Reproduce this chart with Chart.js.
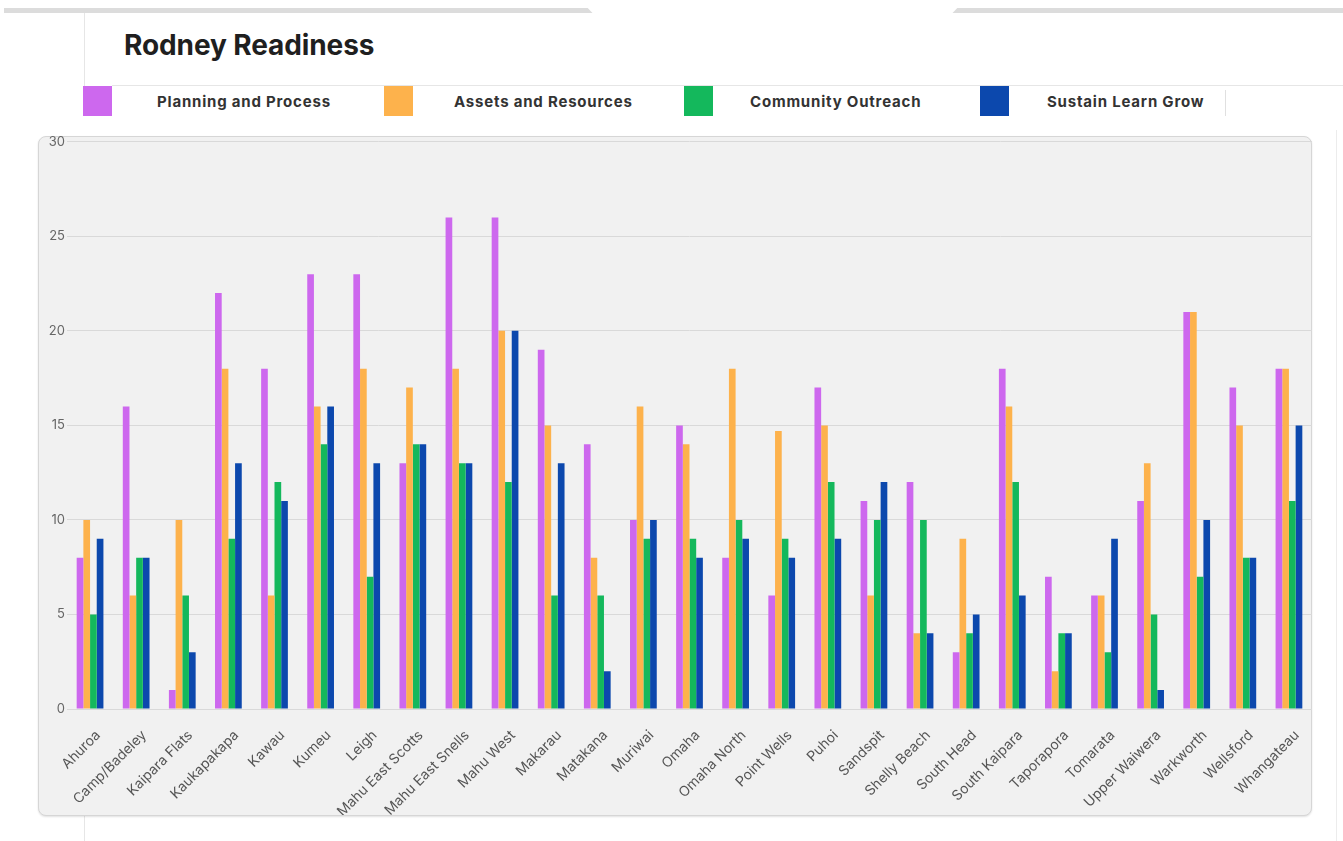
<!DOCTYPE html>
<html>
<head>
<meta charset="utf-8">
<title>Rodney Readiness</title>
<script src="https://cdn.jsdelivr.net/npm/chart.js@4.4.1/dist/chart.umd.min.js"></script>
<style>
    html, body { margin: 0; padding: 0; background: #fff; }
    body { width: 1343px; height: 841px; position: relative; overflow: hidden; font-family: Inter, "Open Sans", sans-serif; }
    .top-band { position: absolute; left: 4px; right: 0; top: 8px; height: 5px; background: #dcdcdc; }
    .top-notch { position: absolute; left: 580px; top: 0; width: 385px; height: 40px; background: #fff;
                 clip-path: polygon(0 0, 100% 0, 90% 100%, 10% 100%); }
    .rule-left { position: absolute; left: 84px; top: 13px; width: 1px; height: 73px; background: #e6e6e6; }
    .rule-left-bottom { position: absolute; left: 84px; top: 816px; width: 1px; height: 25px; background: #e6e6e6; }
    .rule-head { position: absolute; left: 112px; right: 0; top: 85px; height: 1px; background: #e6e6e6; }
    .rule-right { position: absolute; left: 1336px; top: 130px; width: 1px; height: 711px; background: #ececec; }
    .title { position: absolute; left: 124px; top: 28px; font-size: 28px; font-weight: 700; color: #1f1f1f; letter-spacing: -0.1px; }
    .legend-item { position: absolute; top: 86px; height: 30px; }
    .legend-item .swatch { position: absolute; left: 0; top: 0; width: 29px; height: 30px; }
    .legend-item .label { position: absolute; top: 6px; font-size: 15px; font-weight: 700; color: #333; white-space: nowrap; letter-spacing: 0.8px; }
    .legend-sep { position: absolute; left: 1225px; top: 90px; width: 1px; height: 26px; background: #e0e0e0; }
    .panel { position: absolute; left: 38px; top: 136px; width: 1272px; height: 678px; background: #f1f1f1;
             border: 1px solid #d6d6d6; border-radius: 8px; box-shadow: 0 1px 2px rgba(0,0,0,0.12); }
    #chartWrap { position: absolute; left: 38px; top: 132px; width: 1275px; height: 683px; }
</style>
</head>
<body>
<div class="top-band"></div>
<div class="top-notch"></div>
<div class="rule-left"></div>
<div class="rule-left-bottom"></div>
<div class="rule-head"></div>
<div class="rule-right"></div>
<div class="title">Rodney Readiness</div>
<div id="legend"></div>
<div class="legend-sep"></div>
<div class="panel"></div>
<div id="chartWrap"><canvas id="readinessChart" width="1275" height="683"></canvas></div>

<script>
// Localities across Rodney
const categories = [
    'Ahuroa', 'Camp/Badeley', 'Kaipara Flats', 'Kaukapakapa', 'Kawau', 'Kumeu', 'Leigh',
    'Mahu East Scotts', 'Mahu East Snells', 'Mahu West', 'Makarau', 'Matakana', 'Muriwai',
    'Omaha', 'Omaha North', 'Point Wells', 'Puhoi', 'Sandspit', 'Shelly Beach', 'South Head',
    'South Kaipara', 'Taporapora', 'Tomarata', 'Upper Waiwera', 'Warkworth', 'Wellsford', 'Whangateau'
];

// Scores per readiness area
const planningAndProcess = [8, 16, 1, 22, 18, 23, 23, 13, 26, 26, 19, 14, 10, 15, 8, 6, 17, 11, 12, 3, 18, 7, 6, 11, 21, 17, 18];
const assetsAndResources = [10, 6, 10, 18, 6, 16, 18, 17, 18, 20, 15, 8, 16, 14, 18, 14.7, 15, 6, 4, 9, 16, 2, 6, 13, 21, 15, 18];
const communityOutreach = [5, 8, 6, 9, 12, 14, 7, 14, 13, 12, 6, 6, 9, 9, 10, 9, 12, 10, 10, 4, 12, 4, 3, 5, 7, 8, 11];
const sustainLearnGrow = [9, 8, 3, 13, 11, 16, 13, 14, 13, 20, 13, 2, 10, 8, 9, 8, 9, 12, 4, 5, 6, 4, 9, 1, 10, 8, 15];

const seriesNames = ['Planning and Process', 'Assets and Resources', 'Community Outreach', 'Sustain Learn Grow'];
const seriesColors = ['#cd68ee', '#fdb24c', '#14b85c', '#0c48ad'];
const yTicks = [0, 5, 10, 15, 20, 25, 30];

// Legend row above the panel
const legendLeft = [83, 384, 684, 980];
const labelOffset = [74, 70, 66, 67];
const legendEl = document.getElementById('legend');
seriesNames.forEach(function(name, i) {
    const item = document.createElement('div');
    item.className = 'legend-item';
    item.style.left = legendLeft[i] + 'px';
    item.innerHTML = '<div class="swatch" style="background:' + seriesColors[i] + '"></div>' +
        '<div class="label" style="left:' + labelOffset[i] + 'px">' + name + '</div>';
    legendEl.appendChild(item);
});

const seriesData = [planningAndProcess, assetsAndResources, communityOutreach, sustainLearnGrow];

new Chart(document.getElementById('readinessChart'), {
    type: 'bar',
    data: {
        labels: categories,
        datasets: seriesData.map(function(values, i) {
            return {
                label: seriesNames[i],
                data: values,
                backgroundColor: seriesColors[i],
                borderWidth: 0,
                categoryPercentage: 0.58,
                barPercentage: 1.0
            };
        })
    },
    options: {
        responsive: false,
        animation: false,
        layout: { padding: { top: 0, right: 1, left: 0, bottom: 0 } },
        plugins: {
            legend: { display: false },
            tooltip: { enabled: false }
        },
        scales: {
            x: {
                grid: { display: false },
                border: { display: false },
                ticks: {
                    color: '#555',
                    font: { family: 'Inter', size: 14 },
                    minRotation: 45,
                    maxRotation: 45,
                    padding: 10,
                    labelOffset: 8,
                    autoSkip: false
                },
                afterFit: function(scale) { scale.height = 106; }
            },
            y: {
                min: 0,
                max: 30,
                afterBuildTicks: function(scale) {
                    scale.ticks = yTicks.map(function(v) { return { value: v }; });
                },
                grid: { color: '#d9d9d9', lineWidth: 1, drawTicks: false },
                border: { display: false },
                ticks: {
                    color: '#666',
                    font: { family: 'Inter', size: 13 },
                    padding: 2
                },
                afterFit: function(scale) { scale.width = 29; }
            }
        }
    }
});
</script>
</body>
</html>
